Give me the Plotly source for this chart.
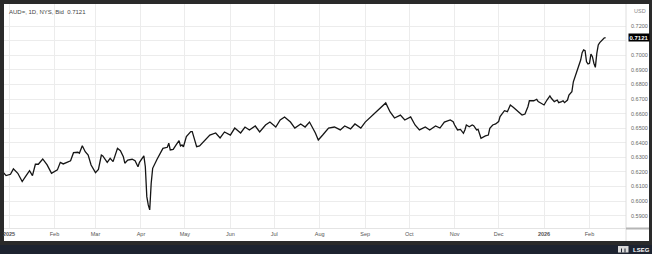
import plotly.graph_objects as go

dates = [
    "2024-12-28", "2024-12-30", "2025-01-02", "2025-01-04", "2025-01-07", "2025-01-10", "2025-01-12",
    "2025-01-15", "2025-01-17", "2025-01-19", "2025-01-21", "2025-01-24", "2025-01-27", "2025-01-30",
    "2025-02-03", "2025-02-05", "2025-02-07", "2025-02-09", "2025-02-12", "2025-02-14", "2025-02-17",
    "2025-02-18", "2025-02-20", "2025-02-22", "2025-02-24", "2025-02-26", "2025-03-01", "2025-03-03",
    "2025-03-05", "2025-03-06", "2025-03-09", "2025-03-11", "2025-03-13", "2025-03-16", "2025-03-18",
    "2025-03-20", "2025-03-21", "2025-03-23", "2025-03-26", "2025-03-28", "2025-03-30", "2025-03-31",
    "2025-04-03", "2025-04-04", "2025-04-05", "2025-04-06", "2025-04-07", "2025-04-08", "2025-04-09",
    "2025-04-12", "2025-04-14", "2025-04-16", "2025-04-19", "2025-04-20", "2025-04-21", "2025-04-23",
    "2025-04-25", "2025-04-27", "2025-04-28", "2025-04-29", "2025-04-30", "2025-05-02", "2025-05-05",
    "2025-05-06", "2025-05-07", "2025-05-09", "2025-05-11", "2025-05-15", "2025-05-18", "2025-05-22",
    "2025-05-25", "2025-05-28", "2025-06-01", "2025-06-04", "2025-06-08", "2025-06-11", "2025-06-14",
    "2025-06-18", "2025-06-21", "2025-06-25", "2025-06-28", "2025-07-02", "2025-07-05", "2025-07-08",
    "2025-07-12", "2025-07-15", "2025-07-19", "2025-07-22", "2025-07-25", "2025-07-29", "2025-07-31",
    "2025-08-03", "2025-08-07", "2025-08-11", "2025-08-15", "2025-08-18", "2025-08-22", "2025-08-25",
    "2025-08-29", "2025-09-01", "2025-09-04", "2025-09-08", "2025-09-11", "2025-09-15", "2025-09-18",
    "2025-09-21", "2025-09-25", "2025-09-28", "2025-10-02", "2025-10-05", "2025-10-08", "2025-10-12",
    "2025-10-15", "2025-10-19", "2025-10-22", "2025-10-25", "2025-10-29", "2025-10-31", "2025-11-01",
    "2025-11-03", "2025-11-05", "2025-11-07", "2025-11-08", "2025-11-09", "2025-11-11", "2025-11-13",
    "2025-11-14", "2025-11-16", "2025-11-17", "2025-11-19", "2025-11-22", "2025-11-24", "2025-11-25",
    "2025-11-27", "2025-11-29", "2025-12-01", "2025-12-02", "2025-12-04", "2025-12-05", "2025-12-07",
    "2025-12-09", "2025-12-11", "2025-12-13", "2025-12-16", "2025-12-17", "2025-12-19", "2025-12-21",
    "2025-12-22", "2025-12-25", "2025-12-27", "2025-12-28", "2025-12-30", "2026-01-01", "2026-01-03",
    "2026-01-05", "2026-01-06", "2026-01-08", "2026-01-10", "2026-01-11", "2026-01-13", "2026-01-14",
    "2026-01-15", "2026-01-17", "2026-01-18", "2026-01-20", "2026-01-21", "2026-01-23", "2026-01-24",
    "2026-01-26", "2026-01-27", "2026-01-28", "2026-01-29", "2026-01-30", "2026-01-31", "2026-02-01",
    "2026-02-02", "2026-02-03", "2026-02-04", "2026-02-05", "2026-02-06", "2026-02-07", "2026-02-08",
    "2026-02-09", "2026-02-10", "2026-02-11", "2026-02-12",
]

bid = [
    0.6198, 0.6175, 0.6184, 0.6221, 0.6191, 0.6134, 0.6164,
    0.6209, 0.6175, 0.6253, 0.6253, 0.6289, 0.6248, 0.6191,
    0.6214, 0.6266, 0.6255, 0.6264, 0.6277, 0.6332, 0.6335,
    0.6328, 0.6380, 0.6339, 0.6316, 0.6248, 0.6195, 0.6218,
    0.6316, 0.6310, 0.6266, 0.6294, 0.6271, 0.6362, 0.6346,
    0.6305, 0.6260, 0.6282, 0.6287, 0.6277, 0.6236, 0.6266,
    0.6310, 0.6236, 0.6031, 0.5974, 0.5940, 0.6123, 0.6225,
    0.6287, 0.6328, 0.6362, 0.6369, 0.6397, 0.6351, 0.6355,
    0.6385, 0.6414, 0.6378, 0.6385, 0.6373, 0.6442, 0.6476,
    0.6476, 0.6442, 0.6373, 0.6378, 0.6419, 0.6453, 0.6467,
    0.6433, 0.6474, 0.6453, 0.6501, 0.6467, 0.6508, 0.6488,
    0.6515, 0.6474, 0.6522, 0.6542, 0.6508, 0.6556, 0.6577,
    0.6542, 0.6501, 0.6529, 0.6508, 0.6542, 0.6467, 0.6419,
    0.6453, 0.6501, 0.6508, 0.6488, 0.6515, 0.6495, 0.6529,
    0.6501, 0.6542, 0.6570, 0.6611, 0.6638, 0.6673, 0.6611,
    0.6570, 0.6590, 0.6556, 0.6577, 0.6522, 0.6488, 0.6508,
    0.6488, 0.6515, 0.6501, 0.6542, 0.6556, 0.6545, 0.6522,
    0.6488, 0.6492, 0.6465, 0.6488, 0.6522, 0.6510, 0.6522,
    0.6517, 0.6488, 0.6492, 0.6431, 0.6447, 0.6453, 0.6499,
    0.6522, 0.6529, 0.6545, 0.6579, 0.6602, 0.6620, 0.6613,
    0.6659, 0.6643, 0.6625, 0.6602, 0.6590, 0.6597, 0.6647,
    0.6688, 0.6688, 0.6698, 0.6682, 0.6671, 0.6659, 0.6693,
    0.6721, 0.6705, 0.6682, 0.6693, 0.6675, 0.6682, 0.6688,
    0.6675, 0.6693, 0.6727, 0.6750, 0.6818, 0.6876, 0.6899,
    0.6967, 0.7017, 0.7036, 0.7031, 0.6955, 0.6940, 0.6945,
    0.7008, 0.6990, 0.6945, 0.6917, 0.7013, 0.7070, 0.7086,
    0.7097, 0.7114, 0.7118, 0.7121,
]

month_ticks = ["2025-01-01", "2025-02-01", "2025-03-01", "2025-04-01", "2025-05-01", "2025-06-01",
               "2025-07-01", "2025-08-01", "2025-09-01", "2025-10-01", "2025-11-01", "2025-12-01",
               "2026-01-01", "2026-02-01"]
month_labels = ["<b>2025</b>", "Feb", "Mar", "Apr", "May", "Jun", "Jul", "Aug", "Sep", "Oct",
                "Nov", "Dec", "<b>2026</b>", "Feb"]
price_ticks = [0.59, 0.60, 0.61, 0.62, 0.63, 0.64, 0.65, 0.66, 0.67, 0.68, 0.69, 0.70, 0.71, 0.72]
last_price = 0.7121
title_text = "AUD=, 1D, NYS, Bid  0.7121"

# the 0.7100 label sits under the last-price badge, so it is left blank
price_labels = ["" if abs(v - 0.71) < 1e-9 else "%.4f" % v for v in price_ticks]

W, H = 652, 254
L, R, T, B = 4, 26, 4, 26
PW, PH = W - L - R, H - T - B

def px(x):
    return (x - L) / PW

def py(y):
    return (H - B - y) / PH

FONT = "Liberation Sans"
GRID = "#ececec"

fig = go.Figure()
fig.add_trace(go.Scatter(x=dates, y=bid, mode="lines",
                         line=dict(color="#151515", width=1.3), hoverinfo="skip"))

shapes = [
    dict(type="rect", xref="paper", yref="paper", x0=px(4), x1=px(649), y0=py(241), y1=py(4),
         fillcolor="white", line=dict(width=0), layer="below"),
    dict(type="rect", xref="paper", yref="paper", x0=px(0), x1=px(652), y0=py(254), y1=py(245),
         fillcolor="#1d2330", line=dict(width=0), layer="below"),
    dict(type="line", xref="paper", yref="paper", x0=px(626), x1=px(626), y0=py(241), y1=py(4),
         line=dict(color="#dedede", width=1)),
    dict(type="line", xref="paper", yref="paper", x0=px(4), x1=px(626), y0=py(228.5), y1=py(228.5),
         line=dict(color="#e4e4e4", width=1)),
    dict(type="line", xref="paper", yref="paper", x0=px(626), x1=px(649), y0=py(228.5), y1=py(228.5),
         line=dict(color="#b5b5b5", width=2)),
    # LSEG emblem
    dict(type="rect", xref="paper", yref="paper", x0=px(618), x1=px(628.5), y0=py(252.5), y1=py(246),
         fillcolor="#d9d9d9", line=dict(width=0)),
    dict(type="line", xref="paper", yref="paper", x0=px(621.5), x1=px(621.5), y0=py(252.5), y1=py(248.5),
         line=dict(color="#1d2330", width=1)),
    dict(type="line", xref="paper", yref="paper", x0=px(625), x1=px(625), y0=py(252.5), y1=py(248.5),
         line=dict(color="#1d2330", width=1)),
]

annotations = [
    dict(text=title_text, xref="paper", yref="paper", x=px(7), y=py(12), xanchor="left",
         yanchor="middle", showarrow=False, font=dict(family=FONT, size=6, color="#444444")),
    dict(text="USD", xref="paper", yref="paper", x=px(632), y=py(11), xanchor="left",
         yanchor="middle", showarrow=False, font=dict(family=FONT, size=5.5, color="#888888")),
    dict(text="<b>%.4f</b>" % last_price, xref="paper", yref="y", x=px(627.5), y=last_price,
         xanchor="left", yanchor="middle", showarrow=False, bgcolor="#000000",
         font=dict(family=FONT, size=6, color="#ffffff"), borderpad=0.5),
    dict(text="<b>LSEG</b>", xref="paper", yref="paper", x=px(631), y=py(249.5), xanchor="left",
         yanchor="middle", showarrow=False, font=dict(family=FONT, size=6, color="#ffffff")),
]

fig.update_layout(
    width=W, height=H,
    margin=dict(l=L, r=R, t=T, b=B, pad=0),
    paper_bgcolor="#2a2a2a",
    plot_bgcolor="white",
    showlegend=False,
    shapes=shapes,
    annotations=annotations,
    xaxis=dict(
        type="date",
        range=["2024-12-28 14:00", "2026-02-25 22:00"],
        tickvals=month_ticks, ticktext=month_labels,
        showgrid=True, gridcolor=GRID, gridwidth=1,
        ticks="", showline=False, zeroline=False,
        tickfont=dict(family=FONT, size=5.5, color="#555555"),
        ticklabelstandoff=1,
    ),
    yaxis=dict(
        side="right",
        range=[0.5816, 0.7351],
        tickvals=price_ticks, ticktext=price_labels,
        showgrid=True, gridcolor=GRID, gridwidth=1,
        ticks="", showline=False, zeroline=False,
        tickfont=dict(family=FONT, size=5.5, color="#666666"),
        ticklabelstandoff=4,
    ),
)

fig.write_html("out.html")
